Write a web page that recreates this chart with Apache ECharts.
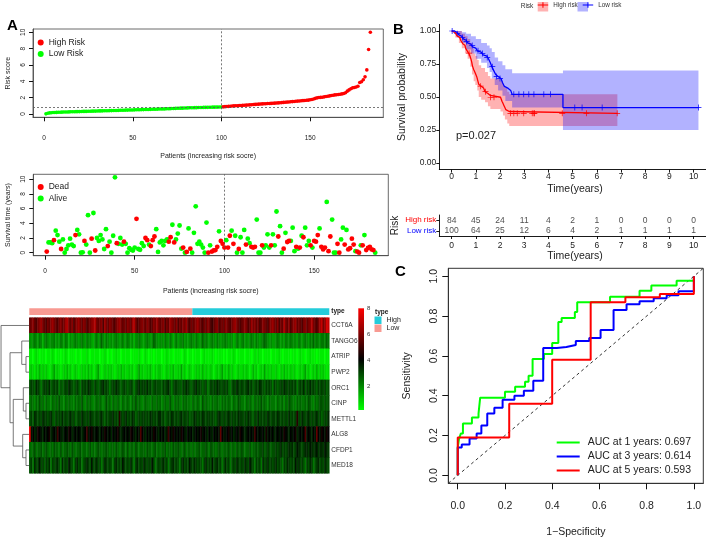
<!DOCTYPE html>
<html><head><meta charset="utf-8">
<script src="https://cdn.jsdelivr.net/npm/echarts@6/dist/echarts.min.js"></script>
<style>html,body{margin:0;padding:0;background:#fff}#c{width:706px;height:538px}</style>
</head><body><div id="c"></div>
<script>
// ---------------- DATA ----------------
const lowN = 100, highN = 84;
const riskCutoff = 0.86;
const patientTicks = [0, 50, 100, 150];
const riskTicks = [0, 2, 4, 6, 8, 10];
const riskScore = [
0.02,0.10,0.14,0.16,0.18,0.19,0.20,0.21,0.22,0.23,
0.24,0.25,0.25,0.26,0.27,0.28,0.28,0.29,0.30,0.30,
0.31,0.32,0.32,0.33,0.34,0.34,0.35,0.36,0.36,0.37,
0.38,0.38,0.39,0.40,0.40,0.41,0.42,0.42,0.43,0.44,
0.44,0.45,0.46,0.46,0.47,0.48,0.48,0.49,0.50,0.50,
0.51,0.52,0.52,0.53,0.54,0.54,0.55,0.56,0.56,0.57,
0.58,0.58,0.59,0.60,0.61,0.61,0.62,0.63,0.64,0.65,
0.66,0.67,0.68,0.69,0.70,0.71,0.72,0.72,0.73,0.74,
0.75,0.76,0.76,0.77,0.78,0.78,0.79,0.80,0.80,0.81,
0.82,0.82,0.83,0.83,0.84,0.84,0.85,0.85,0.86,0.86,
0.88,0.90,0.92,0.94,0.96,0.98,1.00,1.01,1.02,1.04,
1.05,1.06,1.08,1.09,1.10,1.12,1.14,1.16,1.18,1.20,
1.21,1.22,1.24,1.25,1.26,1.28,1.29,1.30,1.31,1.33,
1.34,1.36,1.38,1.40,1.42,1.44,1.46,1.48,1.50,1.52,
1.54,1.56,1.58,1.60,1.62,1.64,1.66,1.68,1.70,1.74,
1.78,1.84,1.92,1.98,2.02,2.04,2.06,2.10,2.14,2.18,
2.22,2.26,2.30,2.34,2.36,2.38,2.42,2.46,2.52,2.60,
2.80,2.95,3.10,3.20,3.25,3.30,3.40,3.85,3.95,4.20,
4.55,5.40,7.90,10.00];
const survTime = [
0.15,1.4,1.4,1.3,1.7,3.0,2.4,1.5,0.5,1.8,
0,0.5,1.0,1.9,1.1,0.9,2.4,3.1,2.5,0,
0.05,1.6,1.1,5.1,0,1.9,5.4,0.3,2.0,1.6,
2.4,1.8,0.5,3.2,0.9,1.5,0,2.3,10.25,1.3,
1.2,2.0,1.1,1.5,1.2,0,0.6,0.4,0.3,0.7,
4.6,0.5,0.4,1.3,0.9,2.0,1.7,1.1,0.9,1.7,
2.2,3.2,0.1,1.4,1.6,1.0,1.6,1.8,1.5,2.1,
3.8,1.4,1.8,2.6,3.7,0.55,0.7,0,0.1,3.3,
0.55,0,2.7,6.3,1.2,1.5,1.1,0.7,0,4.1,
0,1.0,0.15,0.3,0.35,0.8,2.9,1.6,1.2,0.7,
1.7,0.7,2.3,3.0,1.2,2.3,0,0.5,2.1,0,
3.1,1.1,1.9,1.3,0.8,0.7,0.8,4.5,0,0,
1.0,0.7,1.0,2.5,0.7,1.0,2.5,1.0,5.6,2.2,
3.6,0,0.55,2.7,1.45,1.6,1.6,3.4,0.2,0.8,
0.55,0.7,2.3,2.1,3.4,1.0,1.6,1.0,0.7,1.6,
1.5,2.4,3.3,0.8,0.45,0.7,6.9,0.2,2.2,4.5,
0,0,1.2,0,1.8,3.4,1.1,3.1,0.45,0.6,
1.9,1.1,0.2,0.15,0,1.0,1.0,2.4,0.35,0.65,
0.8,0.45,0.35,0];
const survStatus = [
1,0,0,0,1,0,0,0,1,0, 0,0,0,0,0,0,1,0,0,0, 0,1,0,0,0,1,0,1,0,0,
0,0,0,0,1,0,0,0,0,1, 0,0,0,1,0,0,0,0,0,0, 1,0,0,0,0,1,1,0,1,1,
1,0,0,0,0,0,0,0,1,1, 0,1,0,0,0,0,1,0,1,0, 1,0,0,0,0,0,0,0,0,0,
1,0,1,1,1,1,0,1,1,1, 0,1,1,0,1,0,0,1,0,0, 0,1,0,0,1,1,1,0,0,0,
1,0,0,0,0,1,0,0,0,1, 0,0,1,0,1,1,0,0,0,1, 0,1,0,1,0,0,0,1,0,1,
1,1,0,1,1,1,0,1,1,0, 0,0,1,1,0,0,1,0,1,1, 1,1,0,1,1,0,1,0,1,1,
1,1,1,0];
const genes = ['CCT6A','TANGO6','ATRIP','PWP2','ORC1','CINP','METTL1','ALG8','CFDP1','MED18'];
// expression levels: letter a..z -> 0.2 + 0.3*index
const exprRows = [
'stusrtuvts rtsuvtsrtu stvwtsurtu vtsutrstuv wtsturvtsu tsrtuvtsts utsvwtrstu tsutrsutvt sturtsvuts urtsutvsrt stuvtsrtsu trqstursts utsrtuvtsr stutrsvtus trsutsrtuv tsurtswtsu rtuvstsrtu stuwtsrtvx tuyx',
'gfghgfhgeg hgfgghfgfh gfhgegfghg fghgfhggfe ghfgigfhgf gfghgfghfg hgfgegghgf fghgfgihgf ggfhgfhgeg hfgghfgfgh gfhgfgighg fghgfhgfgg hgfggefhgf ghfgfghgfh gfghihgfgf fghgfgfhgg hgggfhgfgh gfhgighggh hgih',
'bbabcbabbb abbbcbabba bbcbabbbab babbbcbabb bbbabbcbab abbcbbabbb bbabbbbcba bcbabbabbb babbcbbbab bbbabcbabb abbbbabcbb bbcbabbbba babbbcbabb bbabbbabcb cbbabbbbab bbbcbabbbb abbbabcbba bbcbbbabbb babb',
'cdcbdcecdc dcbcdfcdcb cdcecdbcdc bcdcdcecdb cdfcbcdcdc dcbcdcecdc cdcdbcdfcd ccdcecbdcd dcbcdcdcec cdcfcdbcdc bcdcdcecdc cdcbcdcdfc dcecdcbcdc cdcdcbcecd bcdcfcdcdc cdcbdcecdc dcdcbcdcdf cdbcdcecdc dcbc',
'jkjilkjhjk kjlijkjkhj ijkjlkjijk jhkjkjlkji kjijkljkjh jkjlkjijkj ijkjhjkljk kjljkijkjj jikjkljhjk kjjikjlkji jkljkjijkh ikjkjlkjjk jkihjkjlkj kjjkljkijk jlkjikjkjh kjijkjlkjk jkjkhjkjli kjljkjikjk jkij',
'hihgihjhig ihhgihihjh hgihihhgih ihjhgihihg hihihghjhi gihhihgihh ihgihjhihg hihhgihhih ighihhjhgi hihgihihhg ihhihgjhih hgihhihgih ihihgihhji hhgihihgih ihjhihgihh hgihhigihj ihhgihihhi hjihgihijj ijij',
'jkilkjkjlk kjkljikjkj ljkjkljkij kjlkjkjlkj jkjkljikjk kljkjpkjkl jkjlkijkjk kjkjlkjkjl ljkijkjlkj kjkljkjkij jlkjkjlkjk kjkjiklkjk jkljkjkjlk kjkjlkjikj ljkjkjlkjk kjlkjkjkjl jkjkpkjlkj kljkjkljki jkjl',
'zmnlmonmln mnolmnmqnm lmnmonlmnm nmlmnqmnom mnmlnmonmn lnmnomlmnm nmonmlnmrn mlnmnmonml nmnlmqnmon mnmonmlnmn lmnmnomnml nmlnmnmsnm mnomnlmnmo nmlmnmnmqn mnmnlomnmn lmnmnmonml nmnolmnmnr mnmlnmsnmo nmon',
'ihijhiijhi jihihjiihj hiijihjihi ijhiihijhi hijihiijih iihjihijih jhiihjihii ihjiihijhi hiijhiihji ijihijhiih ihiijhiiji hjiihijihi iijhiihjii jihiijhiij ijjkijkjij jkjkljkjkl kljkmlkjkl lkmlklmkll kmlk',
'jkhljkmjki kjlhkjkljh ljkjmkjhkl jkhjklkjmj kljkhjlkjk jhkljkjmkj kjljhkljkj lkjkjmkhjk jkljkhjklj kjhkljkjmk jlkjkjhklj kjmjkljkhj ljkhjkjlkj kjlkjmkjhk jkhljkljkj kljkjhkjlk jkjmkljkjh kjlkhjkljk jlkj'];
const colorbarTicks = [2, 4, 6, 8];
// dendrogram merges: [child A, child B, height]; leaves 0..9, merged nodes 10..18
const dendroMerges = [[2,3,2.9],[1,10,7.0],[5,6,2.9],[4,12,5.5],[8,9,2.9],[7,14,6.1],[13,15,15.2],[11,16,18.3],[0,17,27]];
// Kaplan-Meier
const kmTicks = [0,1,2,3,4,5,6,7,8,9,10];
const yProbTicks = [0, 0.25, 0.5, 0.75, 1];
const highT = [0,0.08,0.15,0.22,0.28,0.33,0.38,0.42,0.46,0.50,0.55,0.58,0.62,0.66,0.70,0.74,0.77,0.79,0.81,0.83,0.84,0.86,0.88,0.91,0.95,0.98,1.01,1.04,1.06,1.08,1.10,1.12,1.15,1.22,1.32,1.38,1.45,1.50,1.60,2.02,2.08,2.12,2.16,2.20,2.24,2.30,2.38,6.85];
const highS = [1,0.988,0.976,0.964,0.952,0.940,0.928,0.916,0.904,0.892,0.880,0.868,0.856,0.844,0.832,0.820,0.806,0.792,0.778,0.764,0.750,0.736,0.722,0.708,0.694,0.680,0.666,0.652,0.638,0.624,0.610,0.596,0.582,0.568,0.554,0.540,0.526,0.512,0.498,0.484,0.468,0.452,0.436,0.420,0.404,0.390,0.376,0.376];
const lowT = [0,0.12,0.22,0.30,0.37,0.42,0.48,0.54,0.60,0.66,0.72,0.80,0.86,0.93,1.00,1.06,1.12,1.22,1.30,1.38,1.46,1.52,1.57,1.60,1.63,1.66,1.70,1.74,1.78,1.82,1.86,1.92,2.04,2.10,2.14,2.18,2.22,2.34,2.44,2.50,4.60,10.2];
const lowS = [1,0.99,0.98,0.97,0.96,0.95,0.94,0.93,0.92,0.91,0.90,0.89,0.88,0.87,0.86,0.85,0.84,0.83,0.82,0.81,0.80,0.79,0.775,0.76,0.745,0.73,0.715,0.70,0.685,0.67,0.655,0.64,0.625,0.61,0.595,0.58,0.565,0.55,0.535,0.52,0.42,0.42];
const highBandT = [0,0.15,0.30,0.42,0.55,0.66,0.77,0.84,0.91,0.98,1.06,1.12,1.22,1.38,1.50,1.60,2.02,2.12,2.20,2.30,2.38,6.85];
const highBandUp = [1,1,1,0.98,0.96,0.94,0.91,0.87,0.83,0.81,0.78,0.74,0.72,0.69,0.66,0.64,0.62,0.59,0.57,0.54,0.52,0.52];
const highBandLo = [1,0.95,0.91,0.87,0.83,0.79,0.73,0.67,0.62,0.59,0.55,0.50,0.48,0.46,0.43,0.41,0.39,0.36,0.33,0.30,0.28,0.28];
const lowBandT = [0,0.22,0.42,0.60,0.80,1.00,1.22,1.46,1.57,1.66,1.78,1.92,2.10,2.22,2.50,4.60,10.2];
const lowBandUp = [1,1,0.99,0.98,0.96,0.94,0.91,0.89,0.87,0.84,0.80,0.77,0.74,0.71,0.68,0.70,0.70];
const lowBandLo = [1,0.95,0.91,0.86,0.83,0.79,0.76,0.72,0.69,0.64,0.59,0.55,0.51,0.47,0.42,0.25,0.25];
const highCensor = [0.72,1.2,1.4,1.61,1.75,2.43,2.57,2.71,2.98,3.33,3.40,3.42,4.57,5.57,6.84];
const lowCensor = [0.02,0.23,0.44,0.62,0.85,1.09,1.27,1.47,1.68,1.86,2.0,2.57,2.78,2.98,3.19,3.40,3.81,4.09,5.09,5.39,6.22,10.2];
const atRiskHigh = [84,45,24,11,4,2,1,0,0,0,0];
const atRiskLow = [100,64,25,12,6,4,2,1,1,1,1];
const pValueText = 'p=0.027';
// ROC
const rocTicks = [0, 0.2, 0.4, 0.6, 0.8, 1.0];
const roc1 = [[0,0],[0,0.14],[0.005,0.18],[0.013,0.21],[0.022,0.26],[0.06,0.29],[0.088,0.31],[0.095,0.39],[0.20,0.42],[0.243,0.445],[0.285,0.47],[0.30,0.50],[0.317,0.585],[0.365,0.61],[0.40,0.665],[0.426,0.77],[0.44,0.79],[0.496,0.82],[0.506,0.87],[0.645,0.897],[0.77,0.927],[0.82,0.953],[0.927,0.978],[1,1]];
const roc3 = [[0,0],[0,0.14],[0.017,0.155],[0.05,0.185],[0.08,0.21],[0.10,0.25],[0.125,0.31],[0.155,0.34],[0.19,0.38],[0.24,0.40],[0.28,0.425],[0.32,0.475],[0.362,0.64],[0.42,0.645],[0.46,0.655],[0.50,0.675],[0.557,0.69],[0.605,0.73],[0.66,0.83],[0.715,0.86],[0.77,0.875],[0.83,0.89],[0.885,0.905],[0.935,0.925],[1,1]];
const roc5 = [[0,0],[0,0.19],[0.218,0.36],[0.40,0.58],[0.563,0.87],[0.71,0.894],[0.856,0.911],[1,1]];
const rocNames = ['AUC at 1 years: 0.697','AUC at 3 years: 0.614','AUC at 5 years: 0.593'];

// ---------------- BUILD ----------------
const FONT = "'Liberation Sans', Arial, Helvetica, sans-serif";
const TXT = '#222';
const nP = riskScore.length;
const riskLowPts = [], riskHighPts = [];
riskScore.forEach((v,i)=>{ (i < lowN ? riskLowPts : riskHighPts).push([i+1, v]); });
const deadPts = [], alivePts = [];
survTime.forEach((v,i)=>{ (survStatus[i] ? deadPts : alivePts).push([i+1, v]); });
const heatData = [];
exprRows.forEach((row, r) => {
  const s = row.replace(/\s/g,'');
  for (let c = 0; c < Math.min(s.length, nP); c++) heatData.push([c, r, 0.2 + 0.3*(s.charCodeAt(c) - 97)]);
});
// dendrogram
const nodeY = [], nodeH = [];
genes.forEach((g,i)=>{ nodeY[i] = i + 0.5; nodeH[i] = 0; });
const dendroSegs = [];
dendroMerges.forEach((m, k) => {
  const [a, b, h] = m, id = genes.length + k;
  dendroSegs.push({coords: [[nodeH[a], nodeY[a]], [h, nodeY[a]], [h, nodeY[b]], [nodeH[b], nodeY[b]]]});
  nodeY[id] = (nodeY[a] + nodeY[b]) / 2; nodeH[id] = h;
});
function stepAt(T, S, t) { let v = S[0]; for (let i = 0; i < T.length; i++) if (T[i] <= t) v = S[i]; return v; }
const zip = (T, S) => T.map((t,i)=>[t, S[i]]);
const plusIcon = 'path://M0,4.4h10v1.2h-10z M4.4,0h1.2v10h-1.2z';
const plusLegend = 'path://M0,4.4h12v1.2h-12z M5.4,1.8h1.2v6.4h-1.2z';

// confidence band drawn as one stepped polygon through the axis scales
function bandSeries(T, U, L, fill) {
  return {type:'custom', xAxisIndex:6, yAxisIndex:6, silent:true, data:[[T[0], U[0]]],
    renderItem: (params, api) => {
      const pts = [];
      for (let i = 0; i < T.length; i++) {
        const t1 = i < T.length - 1 ? T[i+1] : T[i];
        pts.push(api.coord([T[i], U[i]]), api.coord([t1, U[i]]));
      }
      for (let i = T.length - 1; i >= 0; i--) {
        const t1 = i < T.length - 1 ? T[i+1] : T[i];
        pts.push(api.coord([t1, L[i]]), api.coord([T[i], L[i]]));
      }
      return {type:'polygon', shape:{points:pts}, style:{fill:fill, stroke:null}};
    }};
}

const axisTxt = (size, extra) => Object.assign({fontSize: size, color: TXT, fontFamily: FONT}, extra || {});
const noSplit = {show:false};
const tickStyle = {color:'#111', width:1};
const boxLine = {show:true, onZero:false, lineStyle:{color:'#444', width:0.8}};

const kmX = (gi, labelMargin, nameGap) => ({
  gridIndex: gi, type:'value', min:-0.51, max:10.71, splitLine:noSplit,
  axisLine:{show:true, onZero:false, lineStyle:{color:'#000', width:0.9}},
  axisTick:{show:true, customValues:kmTicks, length:3, lineStyle:{color:'#000', width:0.9}},
  axisLabel:axisTxt(8.5, {customValues:kmTicks, margin:labelMargin}),
  name:'Time(years)', nameLocation:'middle', nameGap:nameGap, nameTextStyle:axisTxt(10.5)
});

const option = {
  animation: false,
  textStyle: {fontFamily: FONT},
  grid: [
    {left:33, top:29, width:350.3, height:88.3, show:true, borderColor:'#444', borderWidth:0.8, outerBoundsMode:'none'},
    {left:33.3, top:174.3, width:355, height:81.4, show:true, borderColor:'#444', borderWidth:0.8, outerBoundsMode:'none'},
    {left:29.3, top:308.3, width:300, height:6.7, outerBoundsMode:'none'},
    {left:29.3, top:317.7, width:300, height:155.6, outerBoundsMode:'none'},
    {left:0, top:317.7, width:29, height:155.6, outerBoundsMode:'none'},
    {left:358.3, top:308.3, width:5.7, height:101.7, outerBoundsMode:'none'},
    {left:439.3, top:24.4, width:271.5, height:145.2, outerBoundsMode:'none'},
    {left:439.3, top:215, width:271.5, height:21, outerBoundsMode:'none'},
    {left:448.3, top:268.3, width:255, height:215, show:true, borderColor:'#333', borderWidth:1, outerBoundsMode:'none'}
  ],
  xAxis: [
    {gridIndex:0, type:'value', min:-6.3, max:191.3, splitLine:noSplit, axisLine:boxLine,
     axisTick:{show:true, customValues:patientTicks, length:4, lineStyle:tickStyle},
     axisLabel:axisTxt(6.5, {customValues:patientTicks, margin:17}),
     name:'Patients (increasing risk socre)', nameLocation:'middle', nameGap:35, nameTextStyle:axisTxt(7)},
    {gridIndex:1, type:'value', min:-6.5, max:191.3, splitLine:noSplit, axisLine:boxLine,
     axisTick:{show:true, customValues:patientTicks, length:4, lineStyle:tickStyle},
     axisLabel:axisTxt(6.5, {customValues:patientTicks, margin:12.5}),
     name:'Patients (increasing risk socre)', nameLocation:'middle', nameGap:32, nameTextStyle:axisTxt(7)},
    {gridIndex:2, type:'value', min:0, max:nP, show:false, splitLine:noSplit},
    {gridIndex:3, type:'category', data:riskScore.map((v,i)=>i), show:false},
    {gridIndex:4, type:'value', min:0, max:28, inverse:true, show:false, splitLine:noSplit},
    {gridIndex:5, type:'category', data:['v'], show:false},
    kmX(6, 3, 14),
    kmX(7, 5, 15),
    {gridIndex:8, type:'value', min:-0.04, max:1.04, splitLine:noSplit, axisLine:{show:true, onZero:false, lineStyle:{color:'#333', width:1}},
     axisTick:{show:true, customValues:rocTicks, length:6, lineStyle:tickStyle},
     axisLabel:axisTxt(10.5, {customValues:rocTicks, margin:17, formatter:v=>v.toFixed(1)}),
     name:'1\u2212Specificity', nameLocation:'middle', nameGap:43, nameTextStyle:axisTxt(10.5)}
  ],
  yAxis: [
    {gridIndex:0, type:'value', min:-0.4, max:10.4, splitLine:noSplit, axisLine:boxLine,
     axisTick:{show:true, customValues:riskTicks, length:4, lineStyle:tickStyle},
     axisLabel:axisTxt(6.5, {customValues:riskTicks, rotate:90, margin:6.5}),
     name:'Risk score', nameLocation:'middle', nameRotate:90, nameGap:21, nameTextStyle:axisTxt(7)},
    {gridIndex:1, type:'value', min:-0.41, max:10.66, splitLine:noSplit, axisLine:boxLine,
     axisTick:{show:true, customValues:riskTicks, length:4, lineStyle:tickStyle},
     axisLabel:axisTxt(6.5, {customValues:riskTicks, rotate:90, margin:6.5}),
     name:'Survival time (years)', nameLocation:'middle', nameRotate:90, nameGap:21, nameTextStyle:axisTxt(7)},
    {gridIndex:2, type:'category', data:['type'], position:'right', axisLine:{show:false}, axisTick:{show:false},
     axisLabel:axisTxt(6.5, {fontWeight:'bold', margin:2})},
    {gridIndex:3, type:'category', data:genes, inverse:true, position:'right', axisLine:{show:false}, axisTick:{show:false},
     axisLabel:axisTxt(6.5, {margin:2, color:'#333', interval:0})},
    {gridIndex:4, type:'value', min:0, max:10, inverse:true, show:false, splitLine:noSplit},
    {gridIndex:5, type:'value', min:0.2, max:8, position:'right', splitLine:noSplit, axisLine:{show:false}, axisTick:{show:false},
     axisLabel:axisTxt(6, {customValues:colorbarTicks, margin:3, color:'#333'})},
    {gridIndex:6, type:'value', min:-0.05, max:1.05, splitLine:noSplit,
     axisLine:{show:true, onZero:false, lineStyle:{color:'#000', width:0.9}},
     axisTick:{show:true, customValues:yProbTicks, length:3, lineStyle:{color:'#000', width:0.9}},
     axisLabel:axisTxt(8.5, {customValues:yProbTicks, margin:3, formatter:v=>v.toFixed(2)}),
     name:'Survival probability', nameLocation:'middle', nameRotate:90, nameGap:32, nameTextStyle:axisTxt(10.5)},
    {gridIndex:7, type:'category', data:['Low risk','High risk'],
     axisLine:{show:true, onZero:false, lineStyle:{color:'#000', width:0.9}},
     axisTick:{show:true, alignWithLabel:true, length:3, lineStyle:{color:'#000', width:0.9}},
     axisLabel:{margin:3, interval:0, formatter:v=> v==='High risk' ? '{h|High risk}' : '{l|Low risk}',
       rich:{h:{color:'#FF0000', fontSize:8, fontFamily:FONT}, l:{color:'#0000FF', fontSize:8, fontFamily:FONT}}},
     name:'Risk', nameLocation:'middle', nameRotate:90, nameGap:39, nameTextStyle:axisTxt(10)},
    {gridIndex:8, type:'value', min:-0.04, max:1.04, splitLine:noSplit, axisLine:{show:true, onZero:false, lineStyle:{color:'#333', width:1}},
     axisTick:{show:true, customValues:rocTicks, length:6, lineStyle:tickStyle},
     axisLabel:axisTxt(10.5, {customValues:rocTicks, margin:9, rotate:90, formatter:v=>v.toFixed(1)}),
     name:'Sensitivity', nameLocation:'middle', nameRotate:90, nameGap:36, nameTextStyle:axisTxt(10.5)}
  ],
  visualMap: [{type:'continuous', show:false, seriesIndex:6, min:0.2, max:8,
    inRange:{color:['#00FF00','#000000','#FF0000']}}],
  legend: [
    {data:['High Risk','Low Risk'], padding:0, left:37.7, top:38, orient:'vertical', icon:'circle', itemWidth:6, itemHeight:6, itemGap:2.5, selectedMode:false, textStyle:axisTxt(8.5)},
    {data:['Dead','Alive'], padding:0, left:37.7, top:182.5, orient:'vertical', icon:'circle', itemWidth:6, itemHeight:6, itemGap:2.5, selectedMode:false, textStyle:axisTxt(8.5)},
    {data:['High','Low'], padding:0, left:374.5, top:316.5, orient:'vertical', icon:'rect', itemWidth:7, itemHeight:7.5, itemGap:0.5, selectedMode:false, textStyle:axisTxt(7)},
    {data:[{name:'High risk', icon:plusLegend},{name:'Low risk', icon:plusLegend}], padding:0, left:537.7, top:2, itemWidth:10.5, itemHeight:9.5, itemGap:5, selectedMode:false, textStyle:axisTxt(6.3,{color:'#333'})},
    {data:rocNames, padding:0, left:556.7, top:436, orient:'vertical', icon:'rect', itemWidth:23, itemHeight:2, itemGap:1, selectedMode:false, textStyle:axisTxt(10.5,{lineHeight:13, padding:[0,0,0,3]})}
  ],
  series: [
    // 0,1 risk score
    {name:'Low Risk', type:'scatter', xAxisIndex:0, yAxisIndex:0, data:riskLowPts, symbolSize:3.6, itemStyle:{color:'#00FF00', opacity:1}, silent:true},
    {name:'High Risk', type:'scatter', xAxisIndex:0, yAxisIndex:0, data:riskHighPts, symbolSize:3.6, itemStyle:{color:'#FF0000', opacity:1}, silent:true,
     markLine:{silent:true, symbol:['none','none'], label:{show:false}, lineStyle:{type:[2,2], color:'#555', width:0.8},
       data:[{xAxis:lowN},{yAxis:riskCutoff}]}},
    // 2,3 survival
    {name:'Alive', type:'scatter', xAxisIndex:1, yAxisIndex:1, data:alivePts, symbolSize:4.8, itemStyle:{color:'#00FF00', opacity:1}, silent:true},
    {name:'Dead', type:'scatter', xAxisIndex:1, yAxisIndex:1, data:deadPts, symbolSize:4.8, itemStyle:{color:'#FF0000', opacity:1}, silent:true,
     markLine:{silent:true, symbol:['none','none'], label:{show:false}, lineStyle:{type:[2,2], color:'#555', width:0.8},
       data:[{xAxis:lowN}]}},
    // 4,5 annotation bar
    {name:'Low', type:'bar', xAxisIndex:2, yAxisIndex:2, stack:'t', data:[lowN], barWidth:'100%', itemStyle:{color:'#F89A92'}, silent:true},
    {name:'High', type:'bar', xAxisIndex:2, yAxisIndex:2, stack:'t', data:[highN], barWidth:'100%', itemStyle:{color:'#24CCDA'}, silent:true},
    // 6 heatmap
    {type:'heatmap', xAxisIndex:3, yAxisIndex:3, data:heatData, silent:true, itemStyle:{borderWidth:0}},
    // 7 dendrogram
    {type:'lines', coordinateSystem:'cartesian2d', xAxisIndex:4, yAxisIndex:4, polyline:true, data:dendroSegs, silent:true,
     lineStyle:{color:'#555', width:0.8, opacity:1}},
    // 8 color bar
    {type:'bar', xAxisIndex:5, yAxisIndex:5, data:[8], barWidth:'100%', silent:true,
     itemStyle:{color:new echarts.graphic.LinearGradient(0,0,0,1,[{offset:0,color:'#FF0000'},{offset:0.5,color:'#000000'},{offset:1,color:'#00FF00'}])}},
    // KM bands
    bandSeries(highBandT, highBandUp, highBandLo, 'rgba(255,0,0,0.3)'),
    bandSeries(lowBandT, lowBandUp, lowBandLo, 'rgba(0,0,255,0.3)'),
    // KM curves
    {name:'High risk', type:'line', xAxisIndex:6, yAxisIndex:6, data:zip(highT, highS), step:'end', symbol:'none', lineStyle:{color:'#FF0000', width:1.3}, itemStyle:{color:'#FF0000'}, silent:true},
    {name:'Low risk', type:'line', xAxisIndex:6, yAxisIndex:6, data:zip(lowT, lowS), step:'end', symbol:'none', lineStyle:{color:'#0000FF', width:1.3}, itemStyle:{color:'#0000FF'}, silent:true},
    {name:'hc', type:'scatter', xAxisIndex:6, yAxisIndex:6, data:highCensor.map(t=>[t, stepAt(highT, highS, t)]), symbol:plusIcon, symbolSize:6, itemStyle:{color:'#FF0000', opacity:1}, silent:true},
    {name:'lc', type:'scatter', xAxisIndex:6, yAxisIndex:6, data:lowCensor.map(t=>[t, stepAt(lowT, lowS, t)]), symbol:plusIcon, symbolSize:6, itemStyle:{color:'#0000FF', opacity:1}, silent:true},
    // risk table
    {name:'tbl', type:'scatter', xAxisIndex:7, yAxisIndex:7, symbolSize:1, itemStyle:{color:'rgba(0,0,0,0)'}, silent:true,
     data: kmTicks.map((t,i)=>[t,'High risk',atRiskHigh[i]]).concat(kmTicks.map((t,i)=>[t,'Low risk',atRiskLow[i]])),
     label:{show:true, position:'inside', formatter:p=>String(p.value[2]), fontSize:8.5, color:TXT, fontFamily:FONT}},
    // ROC
    {name:'diag', type:'line', xAxisIndex:8, yAxisIndex:8, data:[[-0.04,-0.04],[1.04,1.04]], symbol:'none', lineStyle:{color:'#333', width:1, type:[3,3]}, silent:true},
    {name:rocNames[0], type:'line', xAxisIndex:8, yAxisIndex:8, data:roc1, step:'end', symbol:'none', lineStyle:{color:'#00FF00', width:2}, itemStyle:{color:'#00FF00'}, silent:true},
    {name:rocNames[1], type:'line', xAxisIndex:8, yAxisIndex:8, data:roc3, step:'end', symbol:'none', lineStyle:{color:'#0000FF', width:2}, itemStyle:{color:'#0000FF'}, silent:true},
    {name:rocNames[2], type:'line', xAxisIndex:8, yAxisIndex:8, data:roc5, step:'end', symbol:'none', lineStyle:{color:'#FF0000', width:2}, itemStyle:{color:'#FF0000'}, silent:true}
  ],
  graphic: [
    {type:'text', left:7, top:18, style:{text:'A', fontSize:15, fontWeight:'bold', fill:'#000', fontFamily:FONT}},
    {type:'text', left:393, top:22, style:{text:'B', fontSize:15, fontWeight:'bold', fill:'#000', fontFamily:FONT}},
    {type:'text', left:395, top:264, style:{text:'C', fontSize:15, fontWeight:'bold', fill:'#000', fontFamily:FONT}},
    {type:'text', left:520.7, top:3, style:{text:'Risk', fontSize:6.5, fill:'#333', fontFamily:FONT}},
    {type:'rect', left:537.7, top:2, shape:{width:10.5, height:9.5}, style:{fill:'rgba(255,0,0,0.3)'}},
    {type:'rect', left:577.5, top:2, shape:{width:10.5, height:9.5}, style:{fill:'rgba(0,0,255,0.3)'}},
    {type:'text', left:456, top:130, style:{text:pValueText, fontSize:11, fill:TXT, fontFamily:FONT}},
    {type:'text', left:375, top:309, style:{text:'type', fontSize:6.5, fontWeight:'bold', fill:TXT, fontFamily:FONT}}
  ]
};
const chart = echarts.init(document.getElementById('c'), null, {renderer:'canvas'});
chart.setOption(option);
</script></body></html>
